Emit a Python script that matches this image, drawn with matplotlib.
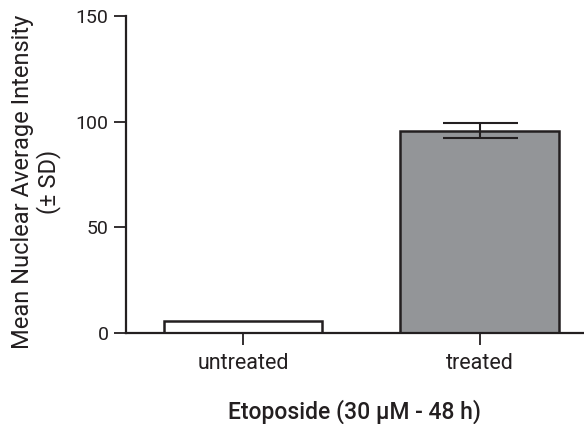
import numpy as np
import matplotlib.pyplot as plt

# du lieu doc tu hinh
groups = ['untreated', 'treated']
means = [5.7, 95.8]
sd = [0, 3.4]
colors = ['white', '#939598']

ink = '#231f20'
plt.rcParams['font.family'] = ['Roboto', 'DejaVu Sans']

fig = plt.figure(figsize=(5.84, 4.24), dpi=100)
ax = fig.add_axes([126 / 584, 1 - 333 / 424, 1 - 126 / 584, 317 / 424])

x = np.arange(len(groups))
ax.bar(x, means, width=0.67, color=colors, edgecolor=ink, linewidth=1.8, zorder=2)
ax.errorbar(x[1:], means[1:], yerr=sd[1:], fmt='none', ecolor=ink,
            elinewidth=1.5, capsize=27, capthick=1.5, zorder=3)

ax.set_xlim(-0.494, 1.44)
ax.set_ylim(0, 150)
ax.set_yticks([0, 50, 100, 150])
ax.set_xticks(x)
ax.set_xticklabels(groups)

for side in ['top', 'right']:
    ax.spines[side].set_visible(False)
for side in ['left', 'bottom']:
    ax.spines[side].set_linewidth(1.6)
    ax.spines[side].set_color(ink)
ax.tick_params(axis='both', length=8.5, width=1.3, color=ink, labelcolor=ink, pad=4)
ax.tick_params(axis='y', labelsize=14)
ax.tick_params(axis='x', labelsize=15.5, pad=6)

ax.set_xlabel('Etoposide (30 µM - 48 h)', fontsize=16.5, color=ink, labelpad=18,
              fontweight='medium')
fig.text(36 / 584, 1 - 182 / 424, 'Mean Nuclear Average Intensity\n(± SD)',
         rotation=90, ha='center', va='center', multialignment='center',
         fontsize=17, color=ink, linespacing=1.15)

fig.savefig('out.png', dpi=100)
